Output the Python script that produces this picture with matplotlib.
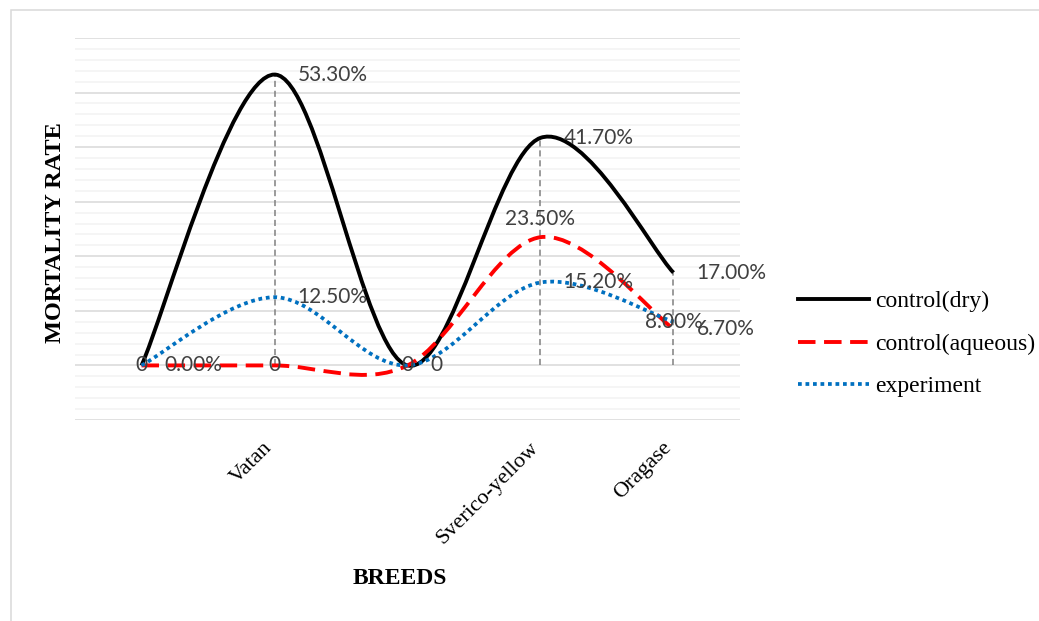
import numpy as np
import matplotlib
matplotlib.use("Agg")
import matplotlib.pyplot as plt
import matplotlib.transforms as mtransforms
from matplotlib.path import Path
from matplotlib.patches import PathPatch, Rectangle
from matplotlib.lines import Line2D

# ==================== DATA ====================
breeds = ["", "Vatan", "", "Sverico-yellow", "Oragase"]
dry = [0, 53.3, 0, 41.7, 17.0]
aqueous = [0, 0, 0, 23.5, 6.7]
experiment = [0, 12.5, 0, 15.2, 8.0]

dry_labels = ["0.00%", "53.30%", "0", "41.70%", "17.00%"]
aqueous_labels = ["0", "0", "0", "23.50%", "6.70%"]
experiment_labels = [None, "12.50%", None, "15.20%", "8.00%"]

# label placement: r = right of point, c = on point, t = above point
dry_pos = ["r", "r", "r", "r", "r"]
aqueous_pos = ["c", "c", "c", "t", "r"]
experiment_pos = [None, "r", None, "r", "c"]

SERIF = "Liberation Serif"
LABEL_FONT = "Lato"
LABEL_COLOR = "#404040"


def smooth_path(xv, yv):
    # Catmull-Rom style cubic bezier (like Excel "smoothed line")
    p = np.column_stack([xv, yv]).astype(float)
    n = len(p)
    tang = np.zeros_like(p)
    for i in range(n):
        a = p[max(i - 1, 0)]
        b = p[min(i + 1, n - 1)]
        tang[i] = (b - a) / 2
    verts = [p[0]]
    codes = [Path.MOVETO]
    for i in range(n - 1):
        verts += [p[i] + tang[i] / 3, p[i + 1] - tang[i + 1] / 3, p[i + 1]]
        codes += [Path.CURVE4] * 3
    return Path(verts, codes)


fig = plt.figure(figsize=(10.39, 6.21), dpi=100)
ax = fig.add_axes([75 / 1039, 1 - 420 / 621, 665 / 1039, 382 / 621])

x = np.arange(len(breeds))
ax.set_xlim(-0.5, len(breeds) - 0.5)
ax.set_ylim(-10, 60)

# gridlines
ax.set_yticks(np.arange(-10, 61, 10))
ax.set_yticks(np.arange(-10, 61, 2), minor=True)
ax.grid(axis="y", which="minor", color="#f2f2f2", lw=1.1, zorder=0)
ax.grid(axis="y", which="major", color="#d9d9d9", lw=1.1, zorder=0)
ax.set_axisbelow(True)
ax.tick_params(axis="y", which="both", length=0, labelleft=False)
for s in ax.spines.values():
    s.set_visible(False)

ax.set_xticks(x)
ax.set_xticklabels(breeds, rotation=45, ha="right", va="center",
                   rotation_mode="anchor", fontfamily=SERIF, fontsize=16)
ax.tick_params(axis="x", length=0, pad=18)
shift = mtransforms.ScaledTranslation(-5 / 100, 0, fig.dpi_scale_trans)
for lbl in ax.get_xticklabels():
    lbl.set_transform(lbl.get_transform() + shift)

# drop lines
for i in x:
    top = max(dry[i], aqueous[i], experiment[i])
    if top > 0:
        ax.plot([i, i], [0, top], color="#808080", lw=1.1,
                linestyle=(0, (4, 2.5)), zorder=1)

# series
styles = [
    (dry, "black", "-", 2.8, "control(dry)"),
    (aqueous, "#ff0000", (0, (4.5, 2.2)), 2.8, "control(aqueous)"),
    (experiment, "#0070c0", (0, (1, 1)), 2.7, "experiment"),
]
handles = []
for vals, col, ls, lw, name in styles:
    patch = PathPatch(smooth_path(x, vals), fill=False, edgecolor=col,
                      lw=lw, linestyle=ls, zorder=3)
    ax.add_patch(patch)
    handles.append(Line2D([], [], color=col, lw=lw, linestyle=ls, label=name))

# data labels
for vals, labs, poss in [(dry, dry_labels, dry_pos),
                         (aqueous, aqueous_labels, aqueous_pos),
                         (experiment, experiment_labels, experiment_pos)]:
    for i, (v, lab, pos) in enumerate(zip(vals, labs, poss)):
        if lab is None:
            continue
        if pos == "r":
            off, ha = (16.5, 0), "left"
        elif pos == "t":
            off, ha = (0, 13), "center"
        else:
            off, ha = (0, 0), "center"
        ax.annotate(lab, (i, v), xytext=off, textcoords="offset points",
                    ha=ha, va="center", fontsize=15, color=LABEL_COLOR,
                    fontfamily=LABEL_FONT, zorder=4)

# axis titles
fig.text(400 / 1039, 1 - 579 / 621, "BREEDS", ha="center", va="center",
         fontfamily=SERIF, fontweight="bold", fontsize=17)
fig.text(56 / 1039, 1 - 233 / 621, "MORTALITY RATE", ha="center", va="center",
         rotation=90, fontfamily=SERIF, fontweight="bold", fontsize=17.5)

# legend
fig.legend(handles=handles, loc="center left",
           bbox_to_anchor=(798 / 1039, 1 - 344 / 621),
           bbox_transform=fig.transFigure, frameon=False,
           prop={"family": SERIF, "size": 17}, handlelength=3.0,
           handletextpad=0.25, labelspacing=0.88, borderpad=0, borderaxespad=0)

# outer chart border
fig.add_artist(Rectangle((10.5 / 1039, -0.1), 1.2, 1 - 9.5 / 621 + 0.1,
                         transform=fig.transFigure, fill=False,
                         edgecolor="#d9d9d9", lw=1.1))

fig.savefig("out.png", dpi=100)
